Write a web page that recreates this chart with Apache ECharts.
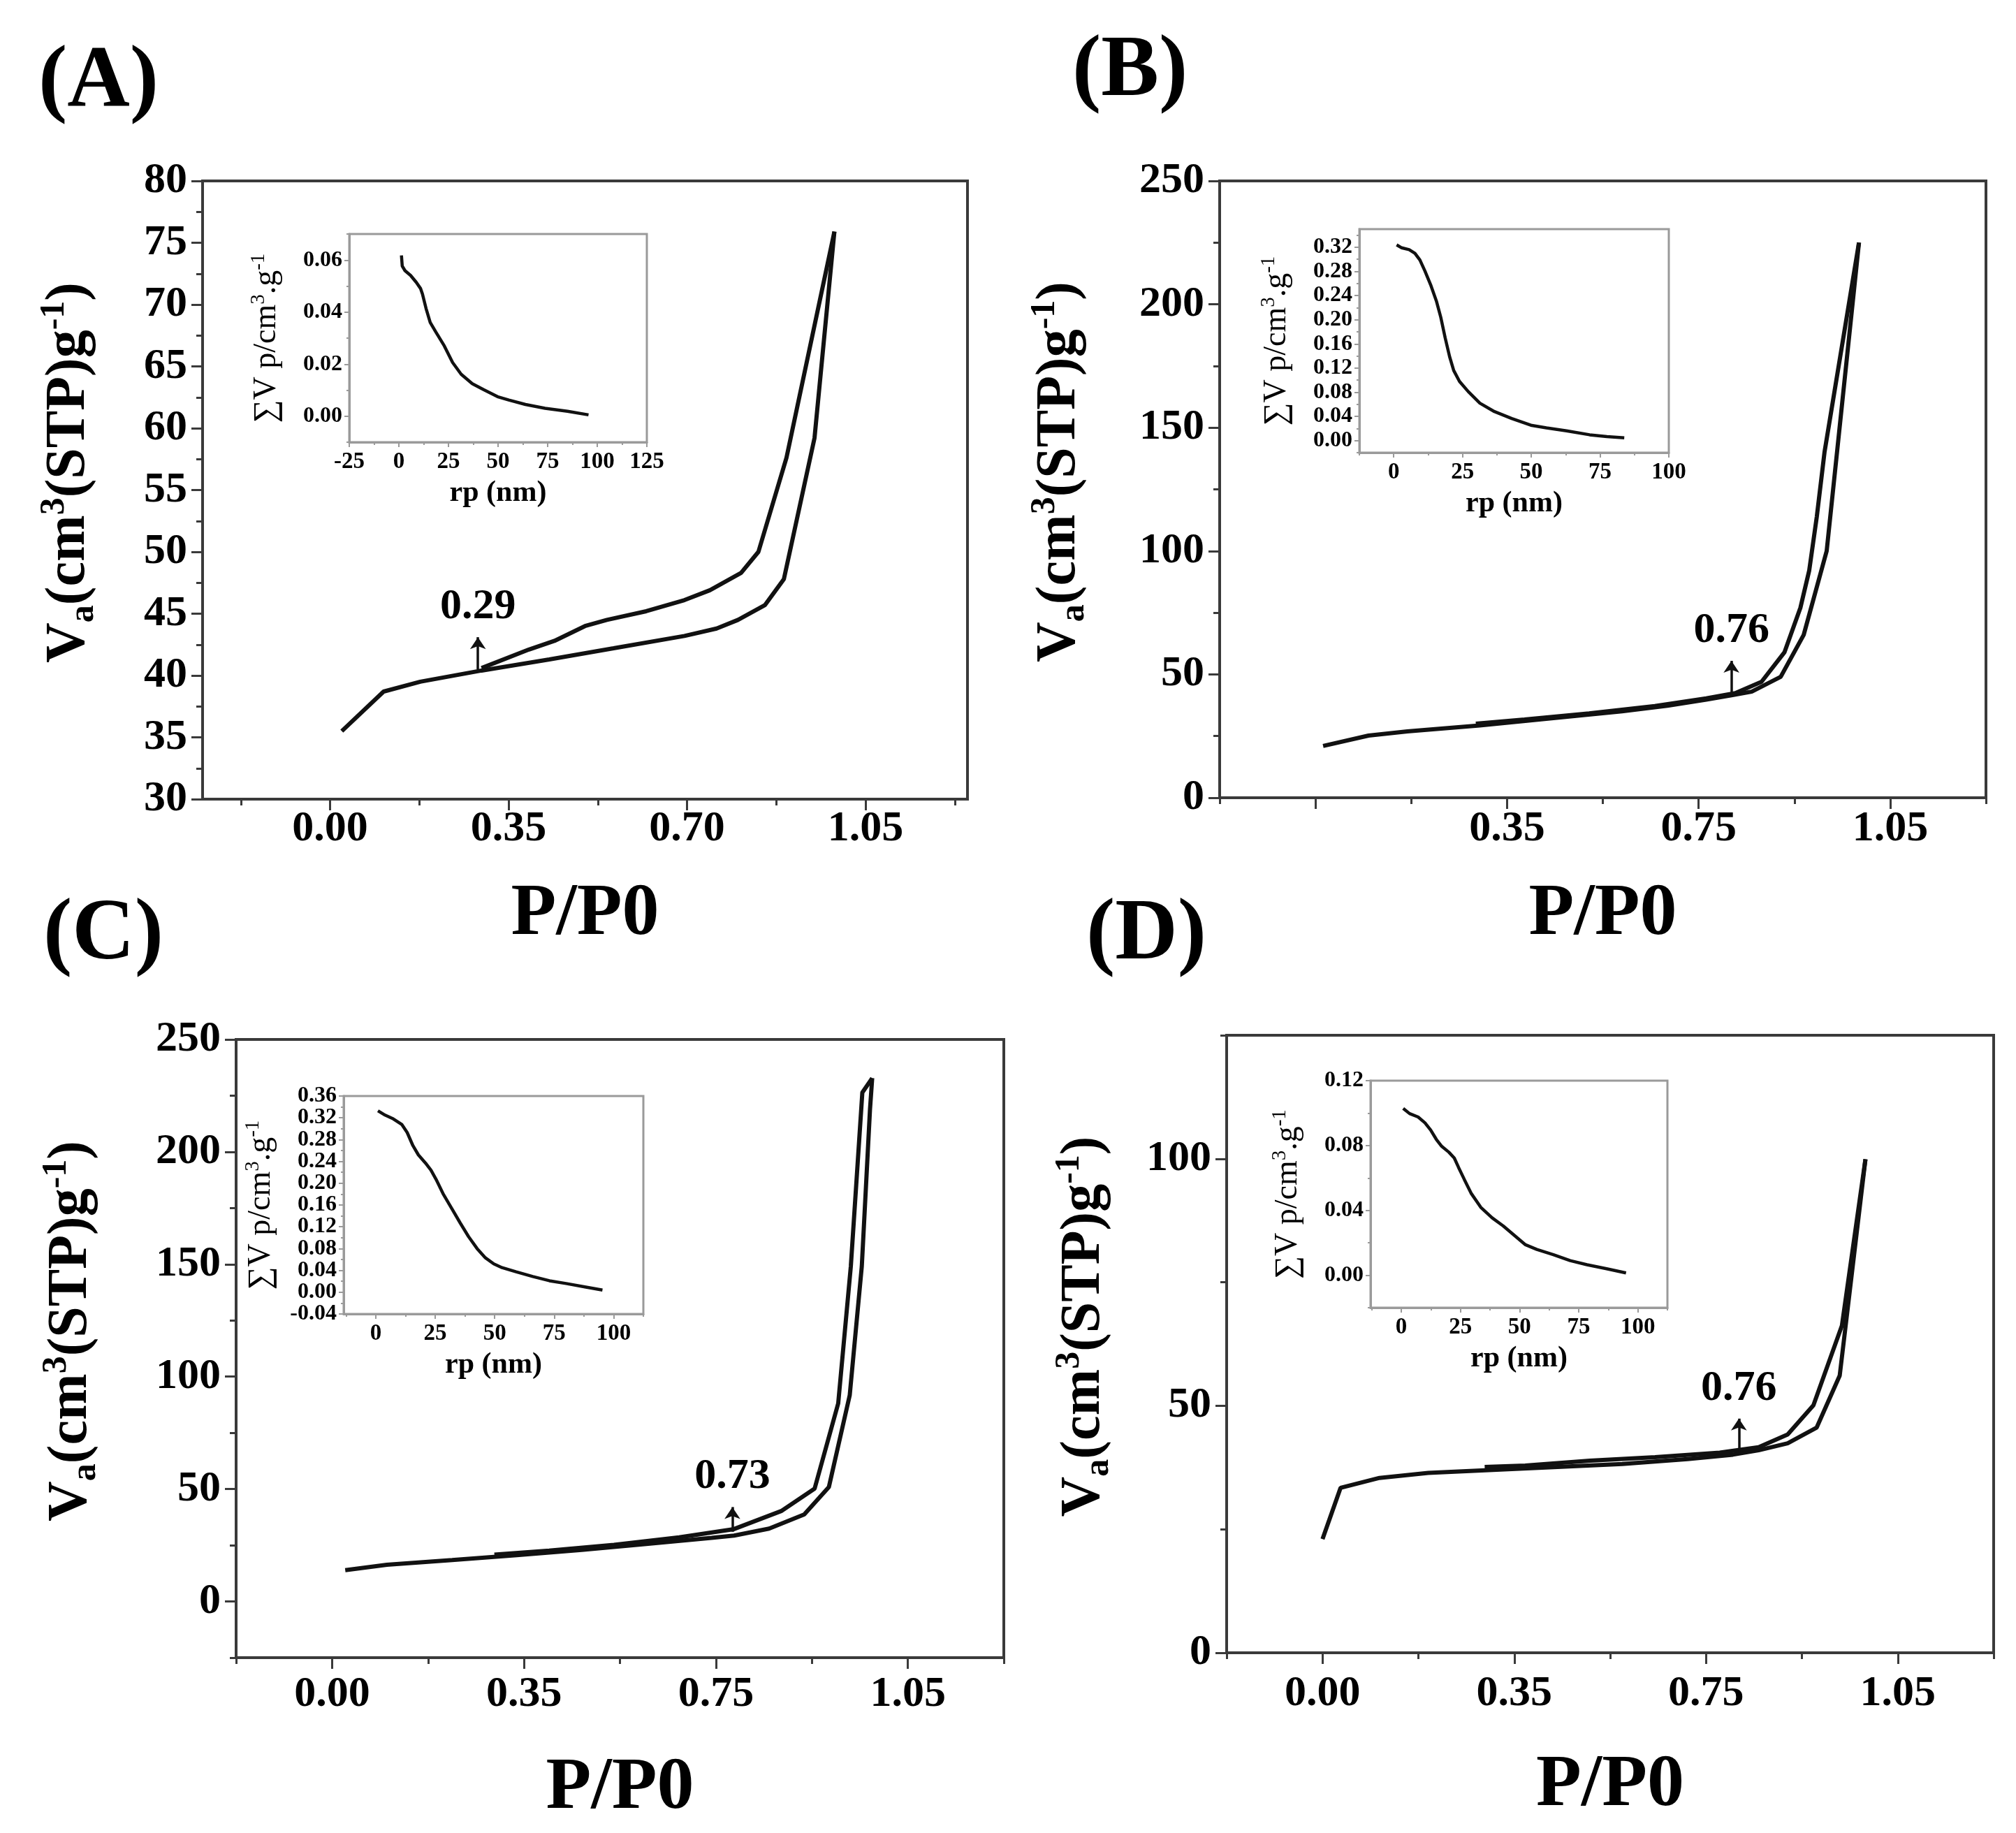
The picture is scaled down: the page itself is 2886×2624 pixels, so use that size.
<!DOCTYPE html>
<html>
<head>
<meta charset="utf-8">
<style>
  html, body { margin: 0; padding: 0; background: #fff; }
  #chart { width: 2886px; height: 2624px; }
</style>
<script src="https://cdn.jsdelivr.net/npm/echarts@6/dist/echarts.min.js"></script>
</head>
<body>
<div id="chart"></div>
<script>
// ---------- data ----------
const panelLetters = ['(A)', '(B)', '(C)', '(D)']

// main x axis (P/P0): ticks sit at 0, 0.35, 0.70, 1.05, printed labels differ per panel
const pTicks = [0, 0.35, 0.7, 1.05]
const pMinor = [-0.175, 0.175, 0.525, 0.875, 1.225]
const pLabelsA = ['0.00', '0.35', '0.70', '1.05']
const pLabelsB = ['', '0.35', '0.75', '1.05']
const pLabelsC = ['0.00', '0.35', '0.75', '1.05']
const pLabelsD = ['0.00', '0.35', '0.75', '1.05']

// main y axis (Va)
const vTicksA = [30, 35, 40, 45, 50, 55, 60, 65, 70, 75, 80]
const vMinorA = [32.5, 37.5, 42.5, 47.5, 52.5, 57.5, 62.5, 67.5, 72.5, 77.5]
const vTicksB = [0, 50, 100, 150, 200, 250]
const vMinorB = [25, 75, 125, 175, 225]
const vTicksC = [0, 50, 100, 150, 200, 250]
const vMinorC = [-25, 25, 75, 125, 175, 225]
const vTicksD = [0, 50, 100]
const vMinorD = [25, 75, 125]

// inset x axis (rp)
const rTicksA = [-25, 0, 25, 50, 75, 100, 125]
const rMinorA = [-12.5, 12.5, 37.5, 62.5, 87.5, 112.5]
const rTicks = [0, 25, 50, 75, 100]
const rMinorB = [-12.5, 12.5, 37.5, 62.5, 87.5]
const rMinorCD = [-12.5, 12.5, 37.5, 62.5, 87.5, 112.5]

// inset y axis (sum Vp)
const sTicksA = [0, 0.02, 0.04, 0.06]
const sMinorA = [-0.01, 0.01, 0.03, 0.05, 0.07]
const sTicksB = [0, 0.04, 0.08, 0.12, 0.16, 0.2, 0.24, 0.28, 0.32]
const sMinorB = [-0.02, 0.02, 0.06, 0.1, 0.14, 0.18, 0.22, 0.26, 0.3, 0.34]
const sTicksC = [-0.04, 0, 0.04, 0.08, 0.12, 0.16, 0.2, 0.24, 0.28, 0.32, 0.36]
const sMinorC = [-0.02, 0.02, 0.06, 0.1, 0.14, 0.18, 0.22, 0.26, 0.3, 0.34]
const sTicksD = [0, 0.04, 0.08, 0.12]
const sMinorD = [-0.02, 0.02, 0.06, 0.1]

// isotherms [P/P0, Va]
const adsA = [[0.023, 35.5], [0.105, 38.7], [0.177, 39.5], [0.297, 40.4], [0.43, 41.3], [0.556, 42.2],
  [0.695, 43.2], [0.758, 43.8], [0.8, 44.5], [0.853, 45.7], [0.89, 47.8], [0.95, 59.2], [0.989, 75.9]]
const desA = [[0.989, 75.9], [0.895, 57.6], [0.84, 50.0], [0.806, 48.3], [0.745, 46.9], [0.695, 46.1],
  [0.62, 45.2], [0.543, 44.5], [0.5, 44.0], [0.44, 42.8], [0.39, 42.1], [0.297, 40.6]]

const adsB = [[0.014, 21], [0.097, 25.2], [0.168, 26.9], [0.3, 29.3], [0.441, 32.4], [0.56, 35],
  [0.643, 37.3], [0.714, 39.8], [0.762, 41.6], [0.797, 43], [0.85, 49], [0.892, 66], [0.934, 100], [0.993, 225]]
const desB = [[0.993, 225], [0.93, 140], [0.916, 114], [0.902, 92], [0.886, 77], [0.857, 59], [0.815, 47],
  [0.767, 42.4], [0.714, 40.3], [0.62, 37.2], [0.5, 34.2], [0.382, 31.7], [0.293, 30]]

const adsC = [[0.024, 13.9], [0.1, 16.3], [0.219, 18.4], [0.337, 20.6], [0.455, 22.9], [0.573, 25.6],
  [0.692, 28.3], [0.733, 29.3], [0.797, 32.4], [0.861, 38.7], [0.906, 50.9], [0.944, 91.7], [0.966, 149],
  [0.981, 219], [0.985, 232.8]]
const desC = [[0.985, 232.8], [0.967, 226.4], [0.946, 149], [0.923, 88.1], [0.88, 50.2], [0.819, 40.2],
  [0.733, 32.2], [0.633, 28.5], [0.514, 25.2], [0.396, 22.6], [0.296, 20.8]]

const adsD = [[0.0, 23.0], [0.033, 33.4], [0.104, 35.4], [0.193, 36.4], [0.311, 37.0], [0.429, 37.6],
  [0.547, 38.2], [0.666, 39.2], [0.749, 40.1], [0.796, 41.0], [0.849, 42.4], [0.902, 45.6], [0.944, 56.1], [0.991, 99.9]]
const desD = [[0.991, 99.9], [0.948, 66.2], [0.896, 50.1], [0.849, 44.2], [0.796, 41.6], [0.725, 40.5],
  [0.607, 39.6], [0.488, 38.9], [0.37, 37.9], [0.296, 37.6]]

// pore volume insets [rp, sum Vp]
const poreA = [[1.3, 0.0618], [1.7, 0.0577], [3.1, 0.0559], [5.9, 0.0541], [8.8, 0.0514], [10.9, 0.0491],
  [11.9, 0.0469], [13.7, 0.0414], [15.8, 0.036], [18.6, 0.0324], [22.9, 0.027], [27.1, 0.0206], [31.4, 0.0161],
  [37, 0.0125], [42.7, 0.0102], [49.7, 0.0075], [55.4, 0.0062], [63.8, 0.0045], [73.7, 0.003], [85, 0.0019], [95.6, 0.0005]]
const poreB = [[1.05, 0.324], [2.9, 0.319], [5.6, 0.316], [7.7, 0.31], [9.5, 0.299], [11.3, 0.281], [13.4, 0.258],
  [15.5, 0.231], [17.1, 0.204], [18.7, 0.17], [20.3, 0.139], [21.8, 0.116], [23.9, 0.098], [27.1, 0.081],
  [31.3, 0.062], [36.6, 0.048], [42.9, 0.0366], [50.2, 0.025], [55.5, 0.021], [62.8, 0.0162], [71.2, 0.0096],
  [77.5, 0.0066], [83.8, 0.0046]]
const poreC = [[0.9, 0.333], [3.9, 0.325], [7.4, 0.318], [10.9, 0.308], [13.2, 0.293], [15.6, 0.269], [17.9, 0.252],
  [20.9, 0.237], [23.2, 0.224], [25.6, 0.205], [28.5, 0.179], [32, 0.153], [35.5, 0.127], [39, 0.102], [42.6, 0.08],
  [46.1, 0.063], [49.6, 0.052], [53.1, 0.045], [59, 0.0373], [66, 0.0287], [73, 0.021], [80, 0.0159], [88.3, 0.0094],
  [95.3, 0.0039]]
const poreD = [[0.8, 0.1029], [3.5, 0.0997], [7.1, 0.0976], [10, 0.094], [12.4, 0.0896], [14.8, 0.0838], [17.1, 0.0795],
  [20.1, 0.0759], [22.4, 0.0723], [24.2, 0.0665], [26.6, 0.0592], [29.5, 0.0506], [33.6, 0.0419], [38.4, 0.0354],
  [43.1, 0.0304], [47.8, 0.0246], [52.5, 0.0188], [57.3, 0.0159], [64.3, 0.0127], [71.4, 0.009], [78.5, 0.0065],
  [86.8, 0.004], [95, 0.0014]]

// arrows: [P/P0, from Va, to Va] and the printed value
const arrowA = [0.29, 40.5, 43.1]
const arrowB = [0.76, 42, 55.5]
const arrowC = [0.73, 31, 42]
const arrowD = [0.76, 40.6, 47.4]
const arrowText = ['0.29', '0.76', '0.73', '0.76']

// ---------- layout ----------
const FONT = "'Liberation Serif', 'Times New Roman', serif"
const MAIN = '#3a3a3a'
const INSET = '#9a9a9a'

const panels = [
  {
    title: { left: 55, top: 57 },
    grid: { left: 290, top: 259, width: 1095, height: 885 },
    inset: { left: 500, top: 335, width: 426, height: 298 },
    x: { min: -0.25, max: 1.25, ticks: pTicks, minor: pMinor, labels: pLabelsA, margin: 12, nameGap: 113 },
    y: { min: 30, max: 80, ticks: vTicksA, minor: vMinorA, nameGap: 145 },
    ix: { min: -25, max: 125, ticks: rTicksA, minor: rMinorA },
    iy: { min: -0.01, max: 0.07, ticks: sTicksA, minor: sMinorA },
    ads: adsA, des: desA, pore: poreA, arrow: arrowA
  },
  {
    title: { left: 1535, top: 42 },
    grid: { left: 1746, top: 259, width: 1097, height: 883 },
    inset: { left: 1946, top: 328, width: 443, height: 320 },
    x: { min: -0.175, max: 1.225, ticks: pTicks, minor: pMinor, labels: pLabelsB, margin: 14, nameGap: 115 },
    y: { min: 0, max: 250, ticks: vTicksB, minor: vMinorB, nameGap: 183 },
    ix: { min: -12.5, max: 100, ticks: rTicks, minor: rMinorB },
    iy: { min: -0.02, max: 0.35, ticks: sTicksB, minor: sMinorB },
    ads: adsB, des: desB, pore: poreB, arrow: arrowB
  },
  {
    title: { left: 62, top: 1278 },
    grid: { left: 338, top: 1488, width: 1099, height: 885 },
    inset: { left: 492, top: 1569, width: 429, height: 312 },
    x: { min: -0.175, max: 1.225, ticks: pTicks, minor: pMinor, labels: pLabelsC, margin: 22, nameGap: 135 },
    y: { min: -25, max: 250, ticks: vTicksC, minor: vMinorC, nameGap: 190 },
    ix: { min: -13.5, max: 112.5, ticks: rTicks, minor: rMinorCD },
    iy: { min: -0.04, max: 0.36, ticks: sTicksC, minor: sMinorC },
    ads: adsC, des: desC, pore: poreC, arrow: arrowC
  },
  {
    title: { left: 1555, top: 1278 },
    grid: { left: 1756, top: 1482, width: 1098, height: 884 },
    inset: { left: 1962, top: 1547, width: 425, height: 325 },
    x: { min: -0.175, max: 1.225, ticks: pTicks, minor: pMinor, labels: pLabelsD, margin: 28, nameGap: 138 },
    y: { min: 0, max: 125, ticks: vTicksD, minor: vMinorD, nameGap: 158 },
    ix: { min: -13, max: 112.5, ticks: rTicks, minor: rMinorCD },
    iy: { min: -0.02, max: 0.12, ticks: sTicksD, minor: sMinorD },
    ads: adsD, des: desD, pore: poreD, arrow: arrowD
  }
]

const xAxes = []
const yAxes = []
const grids = []
const series = []
const titles = []

function labelOf(ticks, labels) {
  return function (v) {
    const i = ticks.findIndex(t => Math.abs(t - v) < 1e-9)
    return i < 0 ? '' : labels[i]
  }
}

// Two overlaid axes per side: the first draws the line, major ticks and every other label,
// the second draws the minor ticks and the remaining labels (keeps dense labels from being dropped)
function addAxis(list, gridIndex, position, a, s) {
  const idx = list.length
  const even = a.ticks.filter((_, k) => k % 2 === 0)
  const odd = a.ticks.filter((_, k) => k % 2 === 1)
  const label = values => ({
    show: true,
    customValues: values,
    formatter: s.formatter,
    margin: s.margin,
    showMinLabel: true,
    showMaxLabel: true,
    hideOverlap: false,
    fontSize: s.fontSize,
    fontWeight: 'bold',
    fontFamily: FONT,
    color: '#000'
  })
  list.push({
    type: 'value',
    gridIndex,
    position,
    min: a.min,
    max: a.max,
    axisLine: { show: true, onZero: false, lineStyle: { color: s.color, width: s.lineWidth } },
    axisTick: { show: true, customValues: a.ticks, length: s.tick, lineStyle: { color: s.color, width: s.tickWidth } },
    axisLabel: label(even),
    splitLine: { show: false },
    name: s.name,
    nameLocation: 'middle',
    nameGap: s.nameGap,
    nameTextStyle: s.nameStyle
  })
  list.push({
    type: 'value',
    gridIndex,
    position,
    min: a.min,
    max: a.max,
    axisLine: { show: false, onZero: false },
    axisTick: { show: true, customValues: a.minor, length: s.minorTick, lineStyle: { color: s.color, width: s.tickWidth } },
    axisLabel: label(odd),
    splitLine: { show: false }
  })
  return idx
}

const supRich = size => ({
  sup: { fontSize: size, fontWeight: 'bold', fontFamily: FONT, color: '#000', lineHeight: size, verticalAlign: 'top' },
  sub: { fontSize: size, fontWeight: 'bold', fontFamily: FONT, color: '#000', lineHeight: size, verticalAlign: 'bottom' }
})

panels.forEach((p, i) => {
  titles.push({
    text: panelLetters[i],
    left: p.title.left,
    top: p.title.top,
    padding: 0,
    textStyle: { fontSize: 124, fontWeight: 'bold', fontFamily: FONT, color: '#000' }
  })

  // main plot
  const g = grids.length
  grids.push({ ...p.grid, show: true, borderColor: MAIN, borderWidth: 4, backgroundColor: 'transparent' })
  const xi = addAxis(xAxes, g, 'bottom', p.x, {
    color: MAIN, lineWidth: 4, tickWidth: 3, tick: 16, minorTick: 9,
    formatter: labelOf(p.x.ticks, p.x.labels), margin: p.x.margin, fontSize: 62,
    name: 'P/P0', nameGap: p.x.nameGap,
    nameStyle: { fontSize: 106, fontWeight: 'bold', fontFamily: FONT, color: '#000' }
  })
  const yi = addAxis(yAxes, g, 'left', p.y, {
    color: MAIN, lineWidth: 4, tickWidth: 3, tick: 16, minorTick: 9,
    formatter: v => String(v), margin: 22, fontSize: 62,
    name: 'V{sub|a}(cm{sup|3}(STP)g{sup|-1})', nameGap: p.y.nameGap,
    nameStyle: {
      fontSize: 80, fontWeight: 'bold', fontFamily: FONT, color: '#000', lineHeight: 92,
      padding: [0, 0, 0, 50], rich: supRich(50)
    }
  })
  const curve = { type: 'line', xAxisIndex: xi, yAxisIndex: yi, showSymbol: false, symbol: 'none',
    lineStyle: { color: '#111', width: 6 }, silent: true }
  series.push({
    ...curve,
    data: p.ads,
    markLine: {
      silent: true,
      animation: false,
      symbol: ['none', 'arrow'],
      symbolSize: 17,
      lineStyle: { color: '#111', width: 3.5, type: 'solid' },
      label: {
        show: true, position: 'end', distance: 12, formatter: arrowText[i],
        fontSize: 62, fontWeight: 'bold', fontFamily: FONT, color: '#000'
      },
      data: [[{ coord: [p.arrow[0], p.arrow[1]] }, { coord: [p.arrow[0], p.arrow[2]] }]]
    }
  })
  series.push({ ...curve, data: p.des })

  // inset
  const gi = grids.length
  grids.push({ ...p.inset, show: true, borderColor: INSET, borderWidth: 3, backgroundColor: 'transparent', z: 3 })
  const ixi = addAxis(xAxes, gi, 'bottom', p.ix, {
    color: INSET, lineWidth: 3, tickWidth: 2, tick: 7, minorTick: 4,
    formatter: v => String(v), margin: 12, fontSize: 33,
    name: 'rp (nm)', nameGap: 52,
    nameStyle: { fontSize: 42, fontWeight: 'bold', fontFamily: FONT, color: '#000' }
  })
  const iyi = addAxis(yAxes, gi, 'left', p.iy, {
    color: INSET, lineWidth: 3, tickWidth: 2, tick: 7, minorTick: 4,
    formatter: v => v.toFixed(2), margin: 10, fontSize: 32,
    name: '\u2211V p/cm{sup|3}.g{sup|-1}', nameGap: 92,
    nameStyle: {
      fontSize: 46, fontFamily: FONT, color: '#000', lineHeight: 52,
      rich: {
        sup: { fontSize: 29, fontFamily: FONT, color: '#000', lineHeight: 29, verticalAlign: 'top' }
      }
    }
  })
  series.push({ type: 'line', xAxisIndex: ixi, yAxisIndex: iyi, showSymbol: false, symbol: 'none',
    lineStyle: { color: '#111', width: 4.5 }, silent: true, data: p.pore })
})

const chart = echarts.init(document.getElementById('chart'), null, { renderer: 'canvas' })
chart.setOption({
  animation: false,
  backgroundColor: '#fff',
  title: titles,
  grid: grids,
  xAxis: xAxes,
  yAxis: yAxes,
  series
})
</script>
</body>
</html>
